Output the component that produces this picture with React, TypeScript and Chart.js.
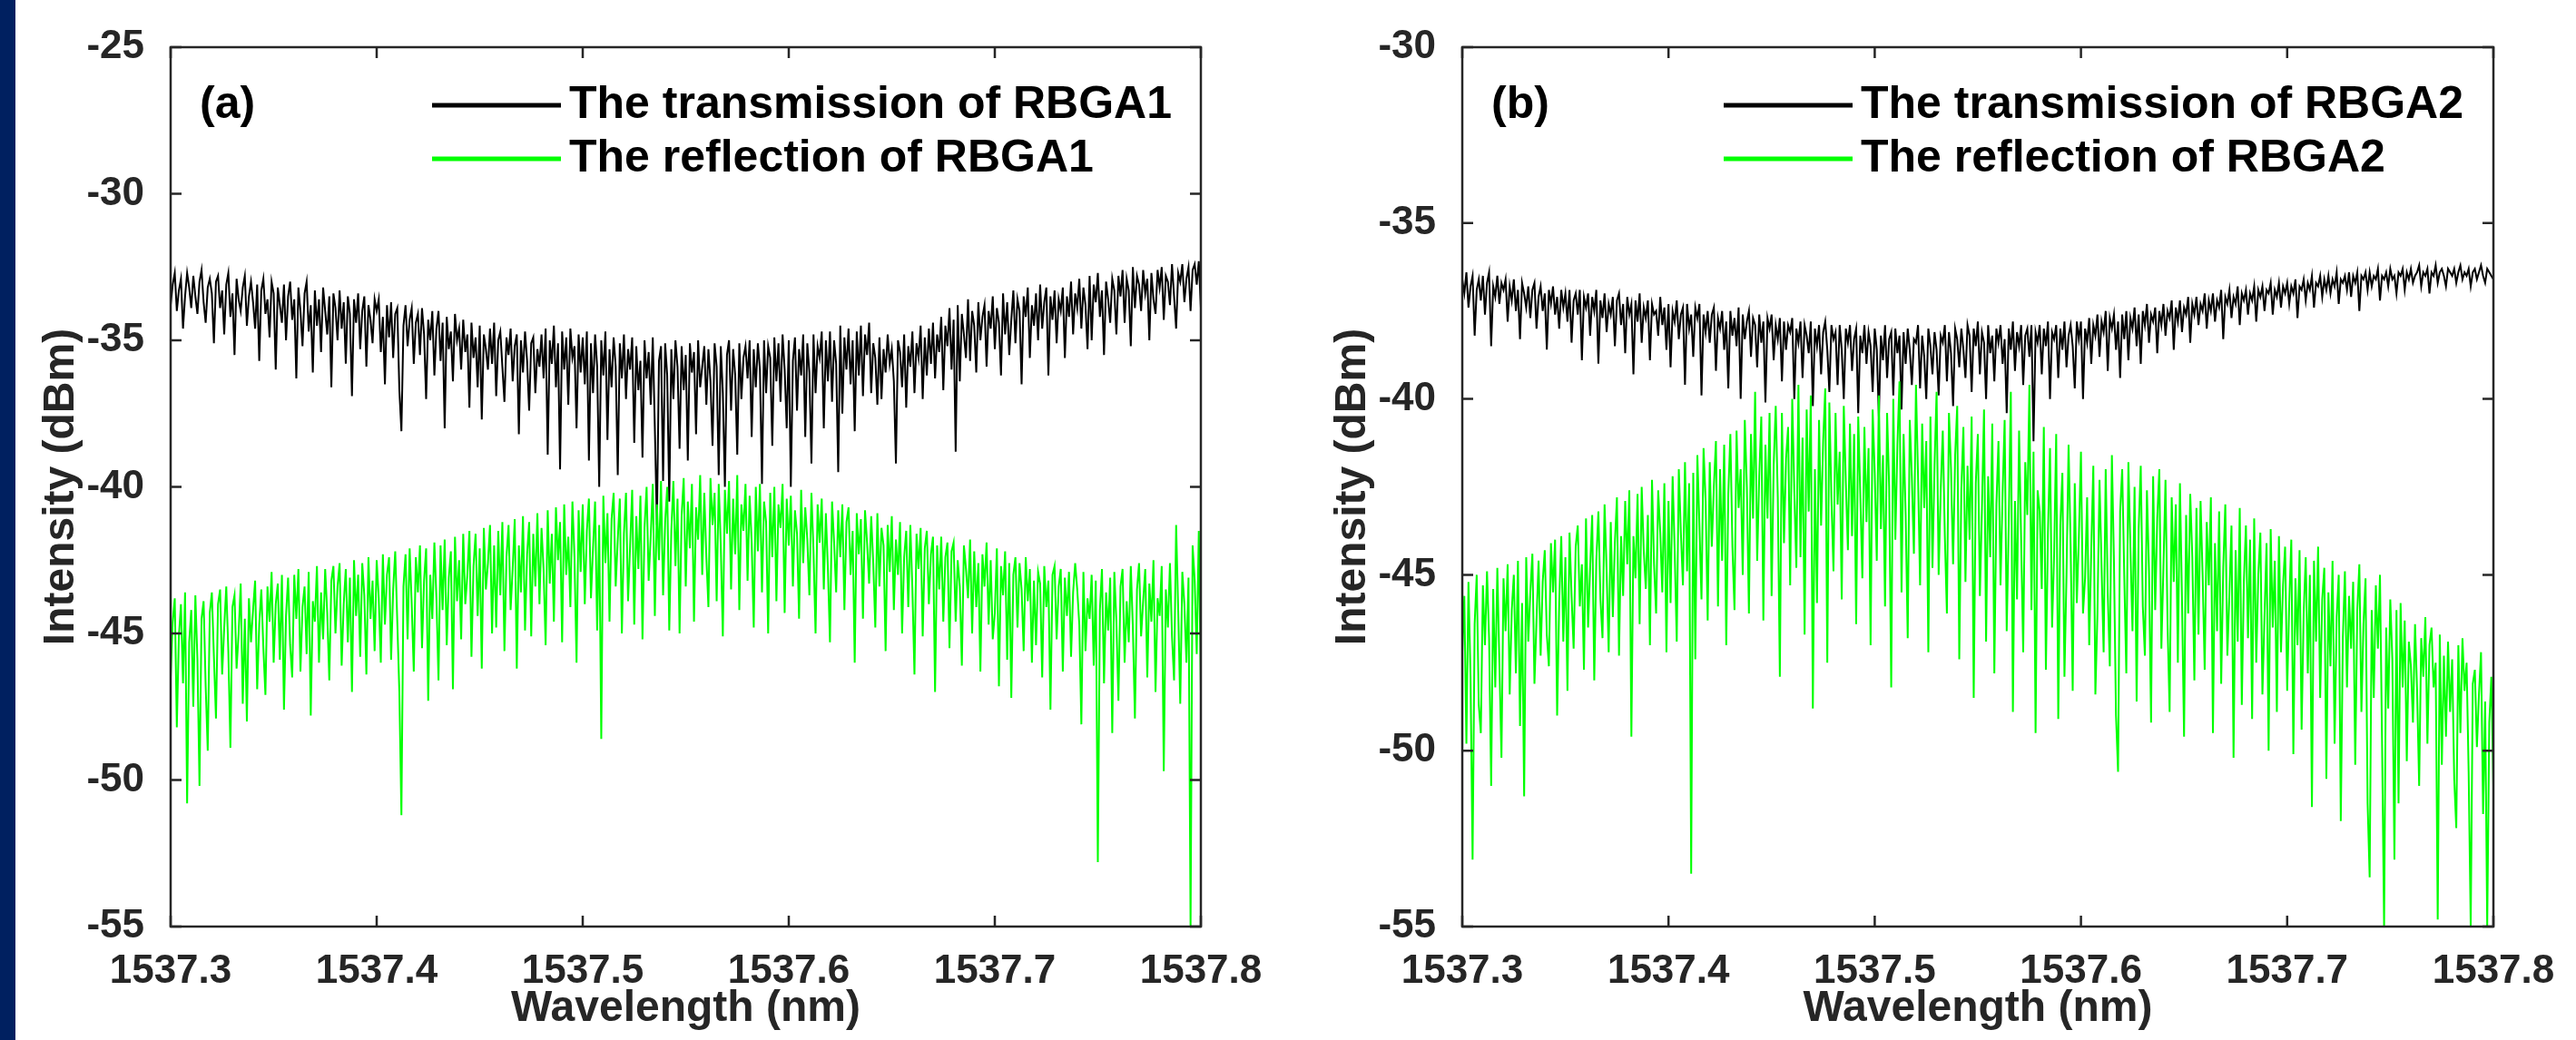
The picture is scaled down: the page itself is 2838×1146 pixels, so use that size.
import React, { useEffect, useRef } from "react";
import { Chart, registerables } from "chart.js";

Chart.register(...registerables);

// ---- data ---------------------------------------------------------------
const WL_START = 1537.3;
const WL_STEP = 0.001;
const X_TICKS = [1537.3, 1537.4, 1537.5, 1537.6, 1537.7, 1537.8];
const Y_TICKS_A = [-55, -50, -45, -40, -35, -30, -25];
const Y_TICKS_B = [-55, -50, -45, -40, -35, -30];
const LABELS_A = ["The transmission of RBGA1", "The reflection of RBGA1"];
const LABELS_B = ["The transmission of RBGA2", "The reflection of RBGA2"];

const TRANS_A = [
  -33.8,-33.1,-32.7,-34.0,-33.3,-32.9,-34.6,-33.5,-32.7,-33.2,-33.9,-32.8,-33.5,-34.1,-33.0,-32.6,-33.7,-34.4,-33.2,-32.9,
  -33.4,-35.1,-33.0,-32.8,-33.9,-33.3,-34.8,-33.1,-32.7,-34.2,-33.4,-35.5,-32.9,-33.6,-34.0,-33.2,-32.8,-34.5,-33.5,-33.0,
  -33.7,-34.6,-33.1,-35.7,-33.3,-32.9,-34.1,-33.6,-34.9,-33.0,-33.4,-36.0,-33.2,-33.8,-34.4,-33.1,-35.0,-33.5,-33.0,-34.3,
  -33.6,-36.3,-33.2,-34.0,-35.2,-33.4,-33.0,-34.7,-33.8,-36.1,-33.3,-34.5,-33.6,-35.4,-33.2,-34.0,-34.8,-33.5,-36.6,-33.4,
  -33.9,-35.0,-33.3,-34.6,-33.7,-35.8,-33.5,-34.1,-36.9,-33.6,-34.4,-33.4,-35.3,-34.0,-33.5,-35.9,-33.8,-34.3,-35.1,-33.6,
  -34.0,-33.6,-35.4,-34.2,-36.5,-33.8,-34.9,-33.7,-35.6,-34.1,-33.9,-36.7,-38.1,-34.5,-33.8,-35.2,-34.3,-33.9,-35.8,-34.4,
  -34.1,-35.5,-33.9,-34.8,-37.0,-34.3,-35.0,-34.0,-36.2,-34.6,-34.0,-35.7,-34.4,-38.0,-34.2,-35.3,-34.7,-36.4,-34.1,-35.0,
  -34.6,-36.0,-34.3,-35.4,-34.8,-37.3,-34.4,-35.6,-34.9,-36.6,-34.5,-37.7,-34.8,-35.3,-36.0,-34.6,-35.8,-34.4,-36.9,-35.0,
  -34.7,-35.9,-37.1,-34.9,-35.5,-34.6,-36.4,-35.2,-34.8,-38.2,-35.0,-36.1,-34.7,-35.7,-37.4,-35.1,-34.9,-36.8,-35.3,-35.9,
  -34.8,-36.3,-34.6,-38.9,-35.0,-35.8,-34.5,-36.6,-35.1,-39.4,-34.7,-36.0,-34.9,-37.2,-34.6,-35.6,-35.2,-38.0,-34.8,-36.1,
  -34.9,-36.5,-34.7,-39.1,-35.1,-36.8,-34.8,-35.9,-40.0,-35.0,-36.2,-34.7,-38.4,-35.3,-36.6,-34.9,-35.9,-39.6,-35.1,-36.3,
  -34.8,-37.0,-35.3,-36.0,-34.9,-38.5,-35.2,-36.7,-35.7,-39.0,-35.0,-36.3,-35.4,-37.2,-34.9,-38.0,-41.3,-35.7,-35.2,-39.8,
  -35.1,-36.2,-40.5,-35.3,-37.0,-35.0,-35.9,-38.7,-35.2,-36.7,-35.5,-39.1,-35.1,-36.1,-35.4,-38.2,-35.0,-36.6,-35.9,-35.2,
  -37.2,-35.3,-36.4,-38.6,-35.1,-35.9,-39.6,-35.2,-36.8,-40.0,-35.5,-35.0,-37.4,-35.3,-36.2,-38.9,-35.1,-37.0,-35.6,-35.2,
  -36.3,-35.0,-38.3,-35.3,-36.6,-35.1,-36.0,-39.9,-35.0,-36.8,-35.2,-35.6,-38.6,-34.9,-36.4,-35.1,-37.1,-34.8,-36.0,-38.0,
  -35.0,-40.0,-35.7,-34.9,-37.4,-35.3,-36.2,-34.8,-38.3,-35.1,-36.1,-39.2,-34.8,-36.8,-35.2,-35.6,-34.7,-38.0,-35.0,-36.4,
  -34.7,-37.1,-35.0,-35.8,-39.5,-34.5,-37.5,-34.9,-36.0,-34.6,-36.5,-35.0,-38.1,-34.7,-36.2,-34.5,-36.9,-34.8,-35.5,-34.4,
  -36.8,-35.1,-35.6,-37.2,-34.9,-37.0,-35.3,-36.1,-34.8,-35.8,-35.3,-36.4,-39.2,-35.0,-35.4,-36.6,-34.8,-37.3,-35.2,-35.9,
  -34.7,-36.8,-35.1,-35.6,-34.5,-37.0,-34.9,-36.2,-34.6,-35.8,-34.4,-36.3,-34.8,-35.4,-34.2,-36.7,-34.5,-35.2,-33.9,-36.0,
  -34.3,-38.8,-33.8,-36.4,-34.1,-34.8,-35.6,-33.6,-35.7,-34.0,-34.5,-36.1,-33.7,-35.0,-34.2,-33.8,-35.9,-34.0,-34.6,-33.5,
  -35.3,-33.9,-34.4,-36.2,-33.4,-34.8,-33.7,-35.5,-34.3,-33.3,-35.1,-33.6,-34.0,-36.5,-33.5,-34.2,-33.2,-35.6,-33.8,-34.5,
  -33.4,-35.0,-33.1,-34.6,-33.7,-33.2,-36.2,-33.5,-34.3,-33.3,-35.1,-33.6,-34.0,-33.2,-35.6,-33.5,-34.2,-33.0,-34.8,-33.4,
  -33.9,-32.9,-34.6,-33.2,-33.8,-35.3,-32.8,-35.0,-33.1,-33.7,-32.7,-34.2,-33.3,-35.5,-33.0,-33.6,-34.4,-32.9,-33.3,-34.8,
  -32.8,-33.5,-32.6,-34.4,-32.9,-33.3,-35.2,-32.5,-33.9,-32.8,-33.1,-34.0,-32.6,-33.4,-32.9,-35.0,-32.7,-33.6,-34.1,-32.6,
  -33.2,-32.5,-34.3,-32.8,-33.0,-33.8,-32.4,-33.5,-34.6,-32.7,-33.0,-32.4,-33.7,-32.9,-32.5,-34.0,-32.6,-32.4,-33.1,-32.3,
  -33.9,
];

const REFL_A = [
  -46.5,-44.6,-43.8,-48.2,-45.1,-44.0,-46.7,-43.6,-50.8,-45.3,-44.2,-47.5,-43.7,-45.9,-50.2,-44.5,-43.9,-46.8,-49.0,-44.3,
  -43.6,-45.8,-47.9,-44.0,-43.5,-46.4,-44.8,-43.4,-45.6,-48.9,-44.1,-43.7,-46.2,-45.0,-43.3,-47.4,-44.5,-48.0,-43.8,-45.3,
  -44.2,-43.2,-46.9,-44.7,-43.5,-45.5,-47.1,-43.4,-44.6,-42.9,-46.0,-44.0,-43.3,-45.9,-43.0,-47.6,-44.4,-43.1,-45.4,-46.5,
  -43.0,-44.5,-42.8,-46.3,-44.1,-43.4,-45.7,-42.9,-47.8,-43.9,-44.6,-42.7,-46.0,-43.6,-45.2,-42.8,-44.3,-46.6,-43.2,-42.7,
  -45.0,-43.4,-42.6,-46.1,-44.0,-42.8,-45.3,-43.1,-47.0,-42.5,-44.4,-43.0,-45.8,-42.6,-43.7,-46.4,-42.4,-44.5,-43.2,-45.6,
  -42.5,-43.8,-46.0,-42.3,-44.7,-43.0,-42.4,-45.9,-43.5,-42.2,-44.6,-47.0,-51.2,-43.4,-42.3,-45.2,-42.1,-44.0,-46.3,-42.4,
  -43.6,-42.0,-45.5,-43.2,-42.1,-47.3,-43.0,-44.5,-41.9,-43.8,-46.6,-42.0,-44.2,-41.8,-45.4,-43.1,-42.2,-46.9,-41.7,-43.9,
  -42.5,-45.2,-41.6,-44.0,-43.0,-41.5,-45.8,-42.7,-41.6,-44.4,-42.1,-46.2,-41.4,-43.5,-42.6,-41.3,-45.0,-42.0,-44.8,-41.5,
  -43.7,-41.2,-45.6,-42.4,-41.3,-44.2,-42.8,-41.1,-46.2,-42.0,-43.6,-41.0,-44.9,-42.3,-41.2,-45.1,-41.6,-43.4,-40.9,-44.0,
  -41.4,-42.8,-45.4,-40.8,-43.3,-41.6,-44.6,-40.7,-42.5,-41.2,-45.3,-40.6,-43.0,-41.7,-44.1,-40.5,-42.4,-46.0,-40.8,-42.9,
  -40.6,-44.0,-41.5,-40.4,-43.8,-42.1,-40.5,-44.9,-41.3,-48.6,-40.3,-42.6,-40.9,-44.6,-41.1,-40.2,-43.4,-41.8,-40.4,-45.0,
  -41.6,-40.2,-43.9,-42.0,-40.1,-44.7,-41.0,-42.8,-40.3,-45.2,-41.4,-40.0,-43.2,-41.7,-39.9,-44.4,-40.6,-42.5,-39.8,-43.7,
  -41.2,-40.0,-44.9,-41.5,-39.8,-42.7,-40.4,-45.0,-41.0,-39.7,-43.4,-40.5,-42.1,-39.9,-44.6,-40.7,-41.8,-39.6,-43.0,-40.2,
  -42.4,-44.1,-39.7,-41.3,-40.2,-43.9,-39.9,-42.0,-45.1,-40.1,-41.6,-39.8,-43.5,-40.4,-42.3,-39.6,-44.2,-40.6,-41.5,-39.9,
  -43.2,-40.3,-41.9,-44.8,-40.0,-42.2,-39.9,-43.6,-40.5,-41.2,-45.0,-40.2,-42.4,-40.0,-43.9,-40.6,-41.4,-39.9,-44.3,-40.4,
  -42.0,-40.3,-43.4,-40.8,-41.6,-44.5,-40.1,-42.6,-40.7,-41.8,-43.7,-40.2,-42.2,-45.0,-40.6,-41.9,-40.4,-43.5,-40.9,-42.8,
  -45.3,-40.5,-41.9,-43.6,-40.8,-42.4,-40.6,-44.2,-41.2,-40.7,-43.0,-41.5,-46.0,-40.9,-42.3,-41.1,-44.5,-40.8,-41.9,-43.3,
  -41.0,-42.6,-44.8,-40.9,-43.4,-41.4,-42.0,-45.6,-41.3,-42.9,-41.0,-44.2,-41.8,-43.0,-41.2,-45.0,-42.4,-41.5,-44.1,-41.3,
  -43.5,-46.4,-41.6,-42.8,-41.4,-45.1,-42.1,-41.5,-44.0,-42.3,-41.7,-47.0,-42.0,-43.5,-41.7,-44.6,-42.4,-41.9,-45.5,-42.2,
  -41.9,-44.6,-42.5,-43.4,-46.1,-42.0,-42.8,-43.8,-41.8,-45.0,-42.2,-44.1,-42.6,-46.3,-42.3,-43.4,-41.9,-44.7,-42.5,-45.2,
  -44.3,-42.1,-46.8,-42.7,-43.7,-42.2,-45.9,-42.6,-47.2,-43.0,-42.4,-44.8,-42.6,-43.5,-45.6,-42.4,-43.9,-42.8,-46.0,-43.2,
  -45.4,-42.9,-43.3,-46.5,-42.7,-44.1,-43.2,-47.6,-43.0,-42.7,-45.2,-43.4,-42.8,-46.3,-43.1,-44.4,-42.9,-45.8,-43.6,-42.6,
  -43.5,-44.7,-48.1,-42.9,-45.6,-43.8,-44.5,-43.0,-46.1,-43.2,-52.8,-44.2,-42.8,-46.7,-43.6,-44.9,-43.1,-48.4,-42.9,-44.6,
  -47.3,-43.4,-42.8,-46.0,-43.9,-45.3,-42.7,-44.8,-47.9,-43.5,-42.6,-45.1,-43.9,-42.8,-46.5,-43.3,-44.6,-42.5,-47.0,-43.8,
  -44.4,-42.7,-49.7,-43.5,-44.8,-42.6,-45.1,-46.6,-41.3,-44.2,-47.4,-42.9,-44.0,-46.0,-43.1,-55.0,-42.0,-43.2,-45.7,-41.5,
  -47.0,
];

const TRANS_B = [
  -36.6,-37.0,-36.4,-37.4,-36.8,-36.5,-38.2,-36.9,-36.6,-37.2,-36.5,-37.6,-36.7,-36.4,-38.5,-36.8,-37.1,-36.5,-37.3,-36.7,
  -36.9,-36.6,-37.8,-36.8,-37.2,-36.6,-37.5,-36.9,-38.3,-36.7,-37.0,-37.4,-36.8,-37.7,-36.9,-36.7,-38.0,-37.1,-36.8,-37.5,
  -37.0,-38.6,-36.9,-37.3,-36.8,-37.6,-37.1,-38.0,-36.9,-37.4,-37.0,-37.8,-36.9,-38.4,-37.2,-37.0,-37.6,-36.9,-38.9,-37.1,
  -37.4,-37.0,-38.2,-37.1,-37.5,-36.9,-39.0,-37.2,-37.7,-37.0,-38.1,-37.3,-37.6,-37.1,-38.5,-37.2,-37.0,-37.9,-37.3,-38.7,
  -37.1,-37.6,-37.3,-39.3,-37.2,-37.8,-37.0,-38.4,-37.4,-37.7,-37.2,-38.9,-37.3,-37.6,-37.5,-38.2,-37.1,-37.9,-37.4,-38.6,
  -37.3,-39.1,-37.5,-37.8,-37.2,-38.3,-37.6,-37.4,-39.6,-37.3,-38.0,-37.6,-38.8,-37.4,-37.7,-37.3,-39.9,-37.6,-38.1,-37.5,
  -38.4,-37.6,-37.4,-39.2,-37.7,-38.0,-37.5,-38.6,-37.8,-39.7,-37.5,-38.2,-37.7,-38.5,-37.4,-40.0,-37.6,-38.3,-37.8,-37.5,
  -38.8,-37.7,-37.9,-39.1,-37.6,-38.4,-37.8,-40.1,-37.7,-38.0,-37.6,-38.9,-37.9,-38.3,-37.7,-39.5,-37.8,-38.6,-37.9,-38.1,
  -37.7,-40.0,-38.0,-38.4,-37.8,-39.4,-37.9,-38.2,-38.7,-37.8,-40.2,-38.0,-38.5,-37.9,-39.3,-38.1,-37.8,-38.6,-39.8,-37.9,
  -38.3,-38.1,-39.6,-37.9,-38.6,-40.0,-38.0,-38.4,-37.9,-39.2,-38.3,-38.0,-40.4,-38.2,-38.7,-37.9,-39.0,-38.1,-38.5,-39.8,
  -38.0,-38.6,-40.5,-38.2,-38.9,-37.9,-39.4,-38.3,-38.1,-39.9,-38.0,-38.7,-38.2,-40.3,-38.1,-39.0,-38.0,-38.6,-39.6,-38.3,
  -38.4,-37.9,-39.7,-38.2,-38.8,-40.0,-38.0,-38.5,-39.3,-38.1,-38.6,-39.9,-38.2,-38.4,-37.9,-39.5,-38.1,-38.7,-40.2,-38.0,
  -38.3,-39.1,-38.0,-38.6,-39.4,-37.9,-38.2,-39.8,-38.0,-38.5,-37.8,-39.3,-38.1,-38.4,-40.0,-37.9,-38.7,-38.2,-39.5,-38.0,
  -38.4,-37.9,-39.0,-38.3,-40.4,-38.0,-38.6,-37.8,-39.2,-38.1,-38.5,-37.9,-39.6,-38.2,-38.0,-38.8,-37.9,-41.2,-38.1,-38.4,
  -37.9,-39.3,-38.0,-38.5,-37.8,-40.0,-38.1,-38.3,-37.9,-39.4,-38.0,-38.6,-37.8,-39.1,-38.2,-37.9,-38.5,-39.7,-37.8,-38.3,
  -37.8,-40.0,-38.0,-38.4,-37.7,-39.0,-37.9,-38.2,-37.6,-38.8,-37.8,-38.1,-37.5,-39.2,-37.7,-38.0,-37.6,-38.6,-37.8,-39.4,
  -37.6,-38.3,-37.5,-38.9,-37.7,-38.0,-37.4,-38.5,-37.6,-39.0,-37.5,-37.9,-37.3,-38.4,-37.6,-37.8,-37.4,-38.7,-37.5,-37.9,
  -37.3,-38.2,-37.5,-37.7,-37.2,-38.6,-37.4,-37.8,-37.2,-38.1,-37.4,-37.6,-37.1,-38.4,-37.3,-37.6,-37.1,-37.9,-37.3,-37.5,
  -37.0,-38.0,-37.2,-37.5,-37.0,-37.8,-37.2,-37.4,-36.9,-38.3,-37.1,-37.3,-36.9,-37.7,-37.1,-37.3,-36.8,-37.9,-37.0,-37.2,
  -36.9,-37.6,-37.0,-37.2,-36.8,-37.8,-36.9,-37.1,-36.8,-37.5,-36.9,-37.0,-36.7,-37.6,-36.9,-37.1,-36.7,-37.4,-36.8,-37.0,
  -36.7,-37.3,-36.8,-37.0,-36.6,-37.7,-36.8,-36.9,-36.6,-37.2,-36.7,-36.9,-36.5,-37.4,-36.7,-36.8,-36.5,-37.1,-36.6,-36.9,
  -36.5,-37.0,-36.6,-36.8,-36.4,-37.3,-36.6,-36.7,-36.5,-36.9,-36.4,-37.1,-36.5,-36.7,-36.4,-37.5,-36.5,-36.6,-36.4,-36.9,
  -36.4,-36.8,-36.5,-36.6,-36.3,-37.2,-36.5,-36.6,-36.4,-36.8,-36.3,-36.6,-36.5,-37.0,-36.4,-36.5,-36.3,-36.9,-36.4,-36.6,
  -36.3,-36.7,-36.5,-36.4,-36.2,-36.8,-36.4,-36.5,-36.3,-37.0,-36.4,-36.5,-36.2,-36.7,-36.4,-36.3,-36.5,-36.8,-36.3,-36.4,
  -36.5,-36.3,-36.7,-36.4,-36.2,-36.6,-36.4,-36.5,-36.3,-36.8,-36.4,-36.3,-36.6,-36.4,-36.2,-36.5,-36.7,-36.3,-36.4,-36.5,
  -36.6,
];

const REFL_B = [
  -47.2,-45.6,-49.8,-45.2,-47.9,-53.1,-46.4,-45.0,-48.7,-49.5,-45.3,-47.0,-44.9,-46.8,-51.0,-45.4,-48.2,-44.8,-47.5,-50.2,
  -45.1,-46.6,-44.7,-48.4,-46.0,-45.0,-47.8,-44.6,-49.3,-45.8,-51.3,-44.5,-46.9,-45.5,-44.4,-48.1,-46.3,-44.6,-47.3,-45.2,
  -44.3,-46.7,-47.6,-44.1,-45.5,-44.0,-49.0,-45.8,-43.9,-46.9,-44.5,-48.3,-43.8,-45.6,-47.1,-44.2,-43.6,-45.9,-44.7,-47.7,
  -43.4,-46.5,-44.8,-43.3,-48.0,-44.6,-43.2,-45.7,-46.8,-43.0,-44.9,-47.2,-43.5,-46.2,-44.1,-42.8,-47.3,-43.9,-45.6,-42.9,
  -44.7,-42.6,-49.6,-43.9,-45.1,-42.7,-46.4,-42.5,-44.3,-45.4,-43.3,-47.0,-42.3,-44.7,-46.1,-42.6,-43.8,-45.5,-42.4,-47.2,
  -42.9,-45.8,-42.2,-44.3,-46.9,-42.0,-43.8,-45.3,-41.8,-44.9,-42.4,-53.5,-42.1,-47.4,-41.6,-43.6,-45.7,-41.4,-42.9,-46.3,
  -41.8,-44.2,-42.5,-41.2,-45.9,-42.0,-44.6,-41.3,-47.0,-42.7,-41.0,-44.2,-46.0,-40.9,-43.1,-42.0,-45.0,-40.6,-42.5,-46.1,
  -41.0,-43.4,-39.8,-44.6,-42.2,-40.5,-46.3,-41.3,-43.4,-40.4,-45.6,-41.9,-40.2,-42.8,-47.9,-40.4,-44.1,-41.7,-40.8,-45.3,
  -40.0,-42.6,-44.8,-39.6,-44.5,-41.1,-46.7,-40.3,-43.2,-39.9,-48.8,-42.0,-45.8,-40.6,-43.6,-41.2,-39.7,-47.5,-40.1,-42.8,
  -44.9,-40.4,-43.0,-41.5,-45.7,-40.2,-42.4,-44.3,-40.7,-43.9,-41.0,-46.4,-40.5,-42.7,-45.1,-40.8,-43.5,-41.4,-47.0,-40.3,
  -42.1,-44.6,-39.9,-43.7,-41.6,-45.9,-40.4,-42.5,-48.2,-40.0,-44.0,-41.3,-39.5,-45.5,-41.0,-43.3,-46.8,-40.6,-42.2,-44.4,
  -39.6,-42.2,-45.3,-40.7,-43.1,-41.2,-47.2,-40.5,-44.8,-41.9,-39.8,-45.0,-42.6,-40.9,-43.9,-46.1,-40.4,-42.0,-44.7,-41.6,
  -40.2,-47.4,-42.6,-40.8,-45.2,-41.9,-44.0,-40.5,-48.5,-42.4,-41.0,-45.6,-43.1,-40.3,-46.9,-42.2,-44.5,-40.7,-47.8,-43.0,
  -41.2,-45.3,-42.7,-40.6,-46.6,-43.5,-39.8,-48.9,-42.9,-45.7,-40.9,-44.0,-47.2,-41.8,-43.3,-39.6,-46.0,-41.5,-49.5,-42.6,
  -43.2,-45.4,-40.8,-47.7,-43.8,-41.4,-46.5,-44.4,-41.0,-49.1,-43.6,-42.1,-47.9,-45.0,-41.3,-44.2,-48.3,-42.4,-45.8,-43.9,
  -41.5,-46.1,-45.1,-42.8,-47.0,-44.3,-41.9,-48.4,-46.1,-42.3,-44.8,-47.2,-42.0,-45.5,-47.6,-41.6,-44.6,-49.0,-50.6,-43.2,
  -42.0,-45.0,-47.8,-41.8,-44.3,-46.6,-42.5,-48.6,-43.7,-41.9,-45.9,-47.3,-42.6,-44.9,-49.2,-42.2,-46.0,-43.4,-42.0,-47.1,
  -44.8,-42.3,-46.4,-48.9,-42.8,-45.2,-43.0,-47.5,-42.4,-45.7,-49.6,-43.3,-46.1,-42.7,-44.5,-48.0,-43.1,-46.7,-42.9,-45.0,
  -47.7,-43.5,-45.3,-42.8,-49.5,-44.1,-46.6,-43.2,-48.1,-44.8,-43.0,-47.3,-45.5,-43.6,-50.2,-44.3,-46.9,-43.1,-48.7,-45.2,
  -43.6,-46.8,-44.0,-49.1,-43.4,-47.5,-45.0,-43.8,-48.4,-46.2,-44.1,-50.0,-43.7,-46.5,-44.6,-48.9,-43.9,-47.2,-45.3,-44.2,
  -48.3,-45.8,-44.0,-50.1,-45.1,-47.0,-44.3,-49.4,-46.1,-44.5,-47.8,-45.0,-51.6,-44.6,-46.9,-44.2,-48.5,-45.7,-44.8,-50.8,
  -45.5,-47.6,-44.6,-49.8,-46.2,-45.0,-52.0,-46.8,-44.9,-48.2,-45.6,-47.1,-45.2,-50.4,-46.0,-44.7,-48.9,-46.4,-45.1,-51.5,
  -53.6,-46.0,-48.5,-45.3,-47.1,-45.0,-49.7,-55.0,-46.5,-48.8,-45.7,-47.4,-53.1,-46.0,-51.5,-45.8,-48.2,-46.3,-50.3,-46.9,
  -47.6,-49.2,-46.4,-48.3,-51.0,-46.8,-47.9,-46.2,-49.8,-47.0,-46.5,-48.2,-47.5,-54.8,-46.7,-50.4,-47.3,-49.6,-46.9,-48.9,
  -47.4,-50.8,-52.2,-47.0,-49.5,-46.8,-48.3,-47.5,-50.6,-55.0,-48.1,-47.7,-49.9,-48.4,-47.2,-51.8,-48.6,-55.0,-49.2,-47.9,
  -51.0,
];

// ---- styling ------------------------------------------------------------
const FONT = '"Liberation Sans", Arial, Helvetica, sans-serif';
const AXIS_COLOR = "#262626";
const TRANS_COLOR = "#000000";
const REFL_COLOR = "#00ff00";

const toPoints = (arr: number[]) => arr.map((v, i) => ({ x: WL_START + i * WL_STEP, y: v }));

function makeFramePlugin(panelLabel: string) {
  return {
    id: "frameLegend",
    afterDraw(chart: any) {
      const { ctx, chartArea: ca } = chart;
      const xs = chart.scales.x;
      const ys = chart.scales.y;
      ctx.save();
      ctx.strokeStyle = AXIS_COLOR;
      ctx.lineWidth = 2.5;
      ctx.strokeRect(ca.left, ca.top, ca.right - ca.left, ca.bottom - ca.top);
      const TL = 12;
      ctx.beginPath();
      xs.ticks.forEach((t: any) => {
        const px = xs.getPixelForValue(t.value);
        ctx.moveTo(px, ca.bottom);
        ctx.lineTo(px, ca.bottom - TL);
        ctx.moveTo(px, ca.top);
        ctx.lineTo(px, ca.top + TL);
      });
      ys.ticks.forEach((t: any) => {
        const py = ys.getPixelForValue(t.value);
        ctx.moveTo(ca.left, py);
        ctx.lineTo(ca.left + TL, py);
        ctx.moveTo(ca.right, py);
        ctx.lineTo(ca.right - TL, py);
      });
      ctx.stroke();

      // panel label
      ctx.fillStyle = "#000";
      ctx.font = `bold 50px ${FONT}`;
      ctx.textBaseline = "middle";
      ctx.textAlign = "left";
      ctx.fillText(panelLabel, ca.left + 32, ca.top + 64);

      // legend
      chart.data.datasets.forEach((ds: any, k: number) => {
        const y = ca.top + 64 + k * 59;
        ctx.strokeStyle = ds.borderColor;
        ctx.lineWidth = 5;
        ctx.beginPath();
        ctx.moveTo(ca.left + 288, y);
        ctx.lineTo(ca.left + 430, y);
        ctx.stroke();
        ctx.fillStyle = "#000";
        ctx.fillText(ds.label, ca.left + 439, y);
      });
      ctx.restore();
    },
  };
}

function buildConfig(opts: {
  trans: number[];
  refl: number[];
  labels: string[];
  yMax: number;
  yTicks: number[];
  yAxisWidth: number;
  rightPad: number;
  yTitlePad: number;
  panelLabel: string;
}) {
  const tickFont = { family: FONT, size: 44, weight: "bold" as const };
  const titleFont = { family: FONT, size: 48, weight: "bold" as const };
  return {
    type: "line" as const,
    data: {
      datasets: [
        {
          label: opts.labels[0],
          data: toPoints(opts.trans),
          borderColor: TRANS_COLOR,
          borderWidth: 2,
          pointRadius: 0,
          tension: 0,
          order: 1,
        },
        {
          label: opts.labels[1],
          data: toPoints(opts.refl),
          borderColor: REFL_COLOR,
          borderWidth: 2,
          pointRadius: 0,
          tension: 0,
          order: 0,
        },
      ],
    },
    options: {
      animation: false as const,
      responsive: false,
      devicePixelRatio: 1,
      layout: { padding: { top: 52, right: opts.rightPad, left: 0, bottom: 0 } },
      plugins: { legend: { display: false }, tooltip: { enabled: false } },
      scales: {
        x: {
          type: "linear" as const,
          min: 1537.3,
          max: 1537.8,
          grid: { display: false },
          border: { display: false },
          afterBuildTicks: (s: any) => {
            s.ticks = X_TICKS.map((v) => ({ value: v }));
          },
          afterFit: (s: any) => {
            s.height = 125;
          },
          ticks: {
            font: tickFont,
            color: AXIS_COLOR,
            padding: 15,
            maxRotation: 0,
            autoSkip: false,
            callback: (v: any) => Number(v).toFixed(1),
          },
          title: {
            display: true,
            text: "Wavelength (nm)",
            font: titleFont,
            color: AXIS_COLOR,
            padding: { top: 0, bottom: 5 },
          },
        },
        y: {
          type: "linear" as const,
          min: -55,
          max: opts.yMax,
          grid: { display: false },
          border: { display: false },
          afterBuildTicks: (s: any) => {
            s.ticks = opts.yTicks.map((v) => ({ value: v }));
          },
          afterFit: (s: any) => {
            s.width = opts.yAxisWidth;
          },
          ticks: {
            font: tickFont,
            color: AXIS_COLOR,
            padding: 21,
            autoSkip: false,
            callback: (v: any) => String(v),
          },
          title: {
            display: true,
            text: "Intensity (dBm)",
            font: titleFont,
            color: AXIS_COLOR,
            padding: { top: opts.yTitlePad, bottom: 0 },
          },
        },
      },
    },
    plugins: [makeFramePlugin(opts.panelLabel)],
  };
}

function Panel(props: { left: number; width: number; cfg: any }) {
  const ref = useRef<HTMLCanvasElement | null>(null);
  useEffect(() => {
    if (!ref.current) return;
    const chart = new Chart(ref.current, props.cfg);
    return () => chart.destroy();
  }, []);
  return (
    <canvas
      ref={ref}
      width={props.width}
      height={1146}
      style={{ position: "absolute", left: props.left, top: 0, width: props.width, height: 1146 }}
    />
  );
}

export default function App() {
  const cfgA = buildConfig({
    trans: TRANS_A,
    refl: REFL_A,
    labels: LABELS_A,
    yMax: -25,
    yTicks: Y_TICKS_A,
    yAxisWidth: 188,
    rightPad: 1440 - 1323,
    yTitlePad: 39,
    panelLabel: "(a)",
  });
  const cfgB = buildConfig({
    trans: TRANS_B,
    refl: REFL_B,
    labels: LABELS_B,
    yMax: -30,
    yTicks: Y_TICKS_B,
    yAxisWidth: 171,
    rightPad: 1398 - 1307,
    yTitlePad: 22,
    panelLabel: "(b)",
  });
  return (
    <div
      style={{
        position: "fixed",
        left: 0,
        top: 0,
        width: 2838,
        height: 1146,
        background: "#ffffff",
        overflow: "hidden",
      }}
    >
      <Panel left={0} width={1440} cfg={cfgA} />
      <Panel left={1440} width={1398} cfg={cfgB} />
      <div
        style={{
          position: "absolute",
          left: 0,
          top: 0,
          width: 17,
          height: 1146,
          background: "#002060",
        }}
      />
    </div>
  );
}
